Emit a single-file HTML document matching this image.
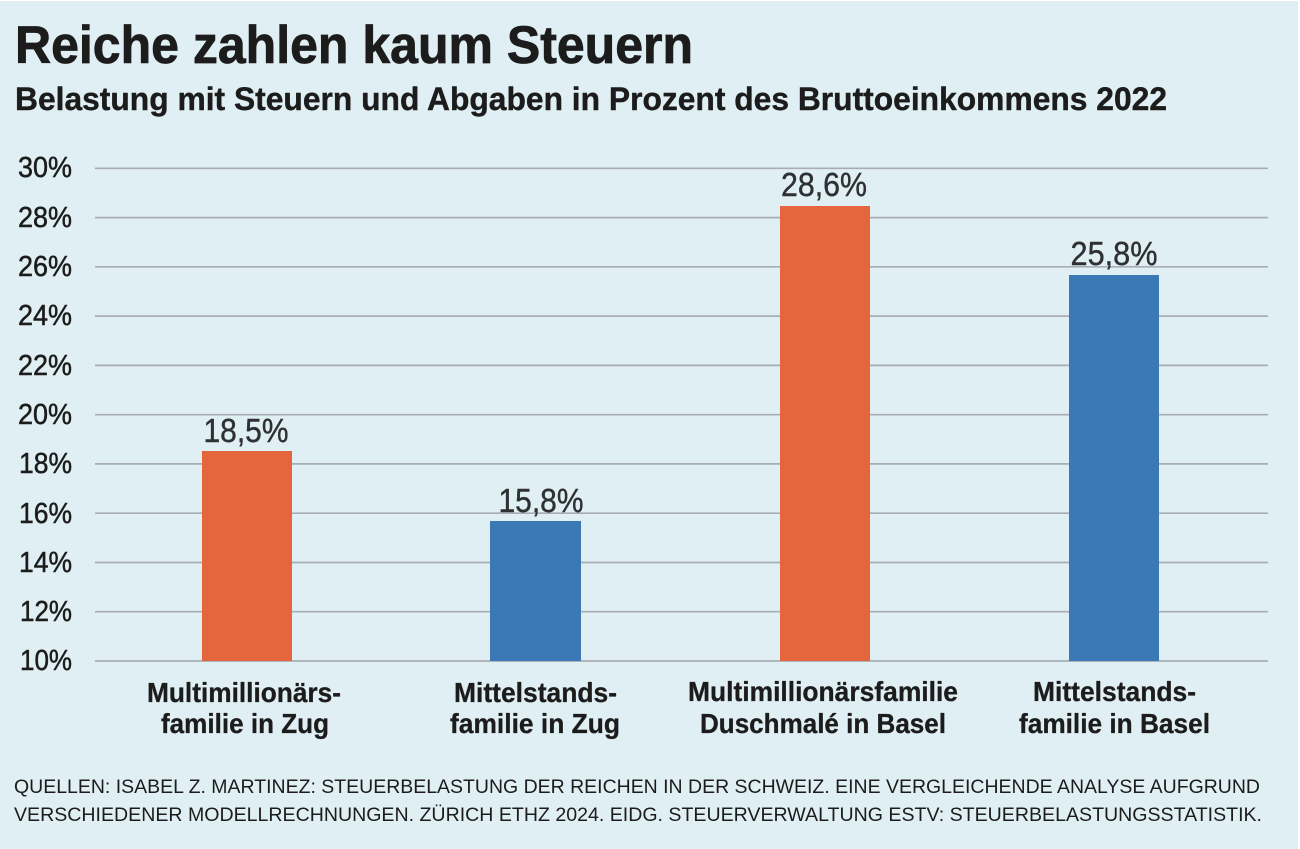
<!DOCTYPE html>
<html>
<head>
<meta charset="utf-8">
<style>
html,body{margin:0;padding:0;background:#ffffff;}
svg{display:block;}
.cond{font-family:"Liberation Sans Narrow","Liberation Sans",sans-serif;}
</style>
</head>
<body>
<svg width="1300" height="849" viewBox="0 0 1300 849" xmlns="http://www.w3.org/2000/svg">
  <rect x="0" y="1" width="1298" height="848" fill="#e0eff3"/>

  <!-- Title -->
  <text class="cond" x="15" y="63" font-size="53" font-weight="bold" fill="#1c1c1c" stroke="#1c1c1c" stroke-width="0.8" textLength="678" lengthAdjust="spacingAndGlyphs">Reiche zahlen kaum Steuern</text>
  <text class="cond" x="15" y="110" font-size="32" font-weight="bold" fill="#1c1c1c" stroke="#1c1c1c" stroke-width="0.4" textLength="1152" lengthAdjust="spacingAndGlyphs">Belastung mit Steuern und Abgaben in Prozent des Bruttoeinkommens 2022</text>

  <!-- Gridlines -->
  <g stroke="#a7adb3" stroke-width="1.7">
    <line x1="95" y1="168.3" x2="1268" y2="168.3"/>
    <line x1="95" y1="217.6" x2="1268" y2="217.6"/>
    <line x1="95" y1="266.8" x2="1268" y2="266.8"/>
    <line x1="95" y1="316.1" x2="1268" y2="316.1"/>
    <line x1="95" y1="365.4" x2="1268" y2="365.4"/>
    <line x1="95" y1="414.7" x2="1268" y2="414.7"/>
    <line x1="95" y1="463.9" x2="1268" y2="463.9"/>
    <line x1="95" y1="513.2" x2="1268" y2="513.2"/>
    <line x1="95" y1="562.5" x2="1268" y2="562.5"/>
    <line x1="95" y1="611.7" x2="1268" y2="611.7"/>
    <line x1="95" y1="661" x2="1268" y2="661"/>
  </g>

  <!-- Y labels -->
  <g class="cond" font-size="29" fill="#1c1c1c" stroke="#1c1c1c" stroke-width="0.5" text-anchor="end">
    <text x="72" y="177" textLength="54" lengthAdjust="spacingAndGlyphs">30%</text>
    <text x="72" y="227" textLength="54" lengthAdjust="spacingAndGlyphs">28%</text>
    <text x="72" y="276" textLength="54" lengthAdjust="spacingAndGlyphs">26%</text>
    <text x="72" y="325" textLength="54" lengthAdjust="spacingAndGlyphs">24%</text>
    <text x="72" y="375" textLength="54" lengthAdjust="spacingAndGlyphs">22%</text>
    <text x="72" y="424" textLength="54" lengthAdjust="spacingAndGlyphs">20%</text>
    <text x="72" y="473" textLength="53" lengthAdjust="spacingAndGlyphs">18%</text>
    <text x="72" y="523" textLength="53" lengthAdjust="spacingAndGlyphs">16%</text>
    <text x="72" y="572" textLength="53" lengthAdjust="spacingAndGlyphs">14%</text>
    <text x="72" y="621" textLength="52" lengthAdjust="spacingAndGlyphs">12%</text>
    <text x="72" y="670" textLength="52" lengthAdjust="spacingAndGlyphs">10%</text>
  </g>

  <!-- Bars -->
  <rect x="202" y="451" width="90" height="210" fill="#e5653d"/>
  <rect x="490" y="521" width="91" height="140" fill="#3b78b6"/>
  <rect x="780" y="206" width="90" height="455" fill="#e5653d"/>
  <rect x="1069" y="275" width="90" height="386" fill="#3b78b6"/>

  <!-- Value labels -->
  <g class="cond" font-size="33" fill="#2e3033" stroke="#2e3033" stroke-width="0.4" text-anchor="middle">
    <text x="246" y="442" textLength="85" lengthAdjust="spacingAndGlyphs">18,5%</text>
    <text x="541" y="512" textLength="85" lengthAdjust="spacingAndGlyphs">15,8%</text>
    <text x="824" y="196" textLength="86" lengthAdjust="spacingAndGlyphs">28,6%</text>
    <text x="1114" y="265" textLength="87" lengthAdjust="spacingAndGlyphs">25,8%</text>
  </g>

  <!-- Category labels -->
  <g class="cond" font-size="27.5" font-weight="bold" fill="#1c1c1c" stroke="#1c1c1c" stroke-width="0.3" text-anchor="middle">
    <text x="244" y="702" textLength="194" lengthAdjust="spacingAndGlyphs">Multimillionärs-</text>
    <text x="245" y="733" textLength="168" lengthAdjust="spacingAndGlyphs">familie in Zug</text>
    <text x="535.5" y="702" textLength="163" lengthAdjust="spacingAndGlyphs">Mittelstands-</text>
    <text x="535" y="733" textLength="170" lengthAdjust="spacingAndGlyphs">familie in Zug</text>
    <text x="823" y="701" textLength="270" lengthAdjust="spacingAndGlyphs">Multimillionärsfamilie</text>
    <text x="823" y="733" textLength="246" lengthAdjust="spacingAndGlyphs">Duschmalé in Basel</text>
    <text x="1114.5" y="701" textLength="163" lengthAdjust="spacingAndGlyphs">Mittelstands-</text>
    <text x="1114.5" y="733" textLength="191" lengthAdjust="spacingAndGlyphs">familie in Basel</text>
  </g>

  <!-- Footnote -->
  <g class="cond" font-size="19.5" fill="#1c1c1c">
    <text x="14" y="793" textLength="1246" lengthAdjust="spacingAndGlyphs">QUELLEN: ISABEL Z. MARTINEZ: STEUERBELASTUNG DER REICHEN IN DER SCHWEIZ. EINE VERGLEICHENDE ANALYSE AUFGRUND</text>
    <text x="14" y="821" textLength="1248" lengthAdjust="spacingAndGlyphs">VERSCHIEDENER MODELLRECHNUNGEN. ZÜRICH ETHZ 2024. EIDG. STEUERVERWALTUNG ESTV: STEUERBELASTUNGSSTATISTIK.</text>
  </g>
</svg>
</body>
</html>
